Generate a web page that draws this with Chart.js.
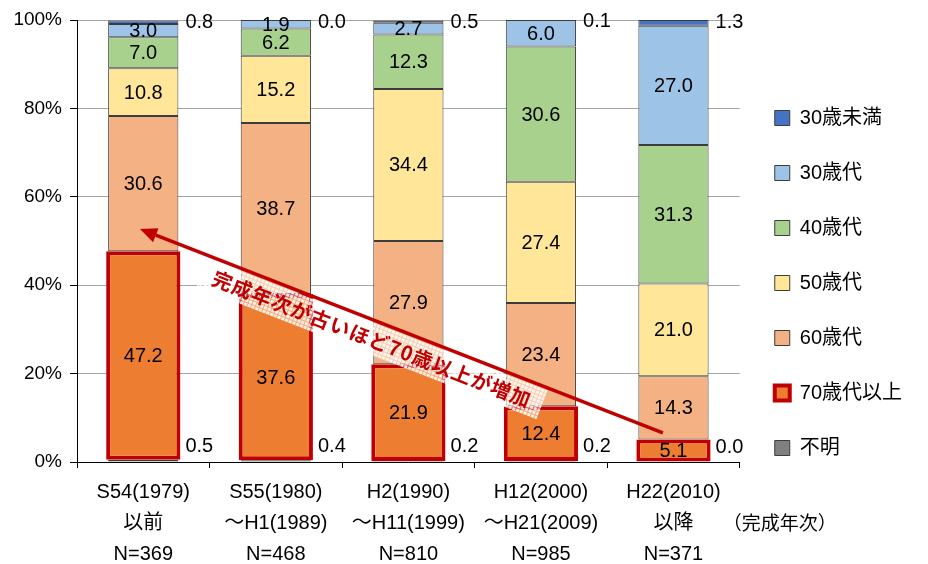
<!DOCTYPE html>
<html>
<head>
<meta charset="utf-8">
<script src="https://cdn.jsdelivr.net/npm/chart.js@4.4.0/dist/chart.umd.min.js"></script>
<style>
  html, body { margin: 0; padding: 0; background: #fff; }
  #wrap { width: 928px; height: 564px; }
</style>
</head>
<body>
<div id="wrap"><canvas id="c" width="928" height="564"></canvas></div>
<script>
// 完成年次別 世帯主年齢の構成比 (%)
const categories = [
  ['S54(1979)', '以前', 'N=369'],
  ['S55(1980)', '～H1(1989)', 'N=468'],
  ['H2(1990)', '～H11(1999)', 'N=810'],
  ['H12(2000)', '～H21(2009)', 'N=985'],
  ['H22(2010)', '以降', 'N=371']
];
const under30   = [0.8, 0.0, 0.5, 0.1, 1.3];
const age30s    = [3.0, 1.9, 2.7, 6.0, 27.0];
const age40s    = [7.0, 6.2, 12.3, 30.6, 31.3];
const age50s    = [10.8, 15.2, 34.4, 27.4, 21.0];
const age60s    = [30.6, 38.7, 27.9, 23.4, 14.3];
const age70plus = [47.2, 37.6, 21.9, 12.4, 5.1];
const unknown   = [0.5, 0.4, 0.2, 0.2, 0.0];
const yTickValues = [0, 20, 40, 60, 80, 100];

// trend arrow, in axis units (category index, percent)
const arrowFrom = { x: 3.92, y: 6.6 };
const arrowTo   = { x: -0.025, y: 52.7 };
const arrowNote = '完成年次が古いほど70歳以上が増加';
const arrowNoteAt = { x: 1.725, y: 27.8 };
const axisNote = '（完成年次）';

const FONT = '"Liberation Sans", "Noto Sans CJK JP", sans-serif';
Chart.defaults.font.family = FONT;
Chart.defaults.color = '#000';

const thin = { borderColor: '#3c3c3c', borderWidth: 1, borderSkipped: false,
               barPercentage: 0.53, categoryPercentage: 1.0 };

const datasets = [
  { label: '不明',       data: unknown,   backgroundColor: '#7f7f7f', ...thin, valueLabel: 'besideBase' },
  { label: '70歳代以上', data: age70plus, backgroundColor: '#ed7d31', borderColor: '#c00000',
    borderWidth: 4, borderSkipped: false, barPercentage: 0.56, categoryPercentage: 1.0, valueLabel: 'center' },
  { label: '60歳代',     data: age60s,    backgroundColor: '#f4b183', ...thin, valueLabel: 'center' },
  { label: '50歳代',     data: age50s,    backgroundColor: '#ffe699', ...thin, valueLabel: 'center' },
  { label: '40歳代',     data: age40s,    backgroundColor: '#a9d18e', ...thin, valueLabel: 'center' },
  { label: '30歳代',     data: age30s,    backgroundColor: '#9dc3e6', ...thin, valueLabel: 'center' },
  { label: '30歳未満',   data: under30,   backgroundColor: '#4472c4', ...thin, valueLabel: 'besideTop' }
];

// value labels on / beside each segment
const valueLabels = {
  id: 'valueLabels',
  afterDatasetsDraw(chart) {
    const ctx = chart.ctx;
    ctx.save();
    ctx.font = '20px ' + FONT;
    ctx.fillStyle = '#000';
    ctx.textBaseline = 'middle';
    chart.data.datasets.forEach((ds, di) => {
      const meta = chart.getDatasetMeta(di);
      if (meta.hidden) return;
      meta.data.forEach((bar, i) => {
        const txt = ds.data[i].toFixed(1);
        const p = bar.getProps(['x', 'y', 'base', 'width'], true);
        if (ds.valueLabel === 'besideTop') {
          ctx.textAlign = 'left';
          ctx.fillText(txt, p.x + p.width / 2 + 7, p.y + 2);
        } else if (ds.valueLabel === 'besideBase') {
          ctx.textAlign = 'left';
          ctx.fillText(txt, p.x + p.width / 2 + 7, p.base - 15);
        } else {
          ctx.textAlign = 'center';
          ctx.fillText(txt, p.x, (p.y + p.base) / 2 + 1);
        }
      });
    });
    ctx.restore();
  }
};

function hatchPattern(ctx) {
  const c = document.createElement('canvas');
  c.width = 4; c.height = 4;
  const g = c.getContext('2d');
  g.fillStyle = 'rgba(255,255,255,0.88)';
  g.fillRect(0, 0, 4, 4);
  g.clearRect(0, 3, 4, 1);
  g.clearRect(3, 0, 1, 4);
  g.fillStyle = 'rgba(255,255,255,0.35)';
  g.fillRect(0, 3, 4, 1);
  g.fillRect(3, 0, 1, 3);
  return ctx.createPattern(c, 'repeat');
}

// red trend arrow with its note
const trendArrow = {
  id: 'trendArrow',
  afterDatasetsDraw(chart) {
    const { ctx, scales: { x, y } } = chart;
    const x0 = x.getPixelForValue(arrowFrom.x), y0 = y.getPixelForValue(arrowFrom.y);
    const x1 = x.getPixelForValue(arrowTo.x),   y1 = y.getPixelForValue(arrowTo.y);
    const ang = Math.atan2(y0 - y1, x0 - x1);      // slope of the note
    const dir = Math.atan2(y1 - y0, x1 - x0);      // pointing at the head
    const tx = x.getPixelForValue(arrowNoteAt.x), ty = y.getPixelForValue(arrowNoteAt.y);

    ctx.save();
    // note background and text
    ctx.translate(tx, ty);
    ctx.rotate(ang);
    ctx.font = 'bold 20px "Noto Sans CJK JP", sans-serif';
    ctx.letterSpacing = '1px';
    const w = ctx.measureText(arrowNote).width;
    ctx.fillStyle = hatchPattern(ctx);
    ctx.fillRect(-w / 2 - 12, -16, w + 24, 31);
    ctx.fillStyle = '#c00000';
    ctx.textAlign = 'center';
    ctx.textBaseline = 'middle';
    ctx.fillText(arrowNote, 0, 0);
    ctx.restore();

    ctx.save();
    const head = 17, half = 7.5;
    const bx = x1 - head * Math.cos(dir), by = y1 - head * Math.sin(dir);
    ctx.strokeStyle = '#c00000';
    ctx.lineWidth = 3.5;
    ctx.beginPath();
    ctx.moveTo(x0, y0);
    ctx.lineTo(bx, by);
    ctx.stroke();
    ctx.fillStyle = '#c00000';
    ctx.beginPath();
    ctx.moveTo(x1, y1);
    ctx.lineTo(bx + half * Math.sin(dir), by - half * Math.cos(dir));
    ctx.lineTo(bx - half * Math.sin(dir), by + half * Math.cos(dir));
    ctx.closePath();
    ctx.fill();
    ctx.restore();
  },
  afterDraw(chart) {
    const { ctx, chartArea, scales: { x } } = chart;
    ctx.save();
    ctx.font = '19px "Noto Sans CJK JP", sans-serif';
    ctx.fillStyle = '#000';
    ctx.textAlign = 'left';
    ctx.textBaseline = 'middle';
    ctx.fillText(axisNote, chartArea.right - 17, x.top + 61);
    ctx.restore();
  }
};

// lift the legend column a little above the canvas centre
const legendLift = {
  id: 'legendLift',
  afterLayout(chart) {
    const lg = chart.legend;
    if (lg) { lg.top -= 9; lg.bottom -= 9; }
  }
};

new Chart(document.getElementById('c'), {
  type: 'bar',
  data: { labels: categories, datasets },
  options: {
    responsive: false,
    animation: false,
    layout: { padding: { left: 0, right: 16, top: 20, bottom: 0 } },
    plugins: {
      legend: {
        position: 'right',
        reverse: true,
        labels: {
          boxWidth: 15, boxHeight: 15,
          padding: 35,
          color: '#000',
          font: { size: 20, family: FONT }
        }
      },
      tooltip: { enabled: false }
    },
    scales: {
      x: {
        stacked: true,
        grid: { display: true, drawOnChartArea: false, drawTicks: true, tickLength: 6, color: '#000', offset: true },
        border: { display: true, color: '#000', width: 1 },
        ticks: { color: '#000', padding: 9, maxRotation: 0, autoSkip: false,
                 font: { size: 20, lineHeight: 1.55 } },
        afterFit(s) { s.height = 102; }
      },
      y: {
        stacked: true,
        min: 0, max: 100,
        afterBuildTicks(s) { s.ticks = yTickValues.map(v => ({ value: v })); },
        grid: { color: '#a6a6a6', borderDash: [3, 2], tickLength: 7, tickColor: '#000', tickBorderDash: [] },
        border: { display: true, color: '#000', width: 1 },
        ticks: { color: '#000', padding: 8, font: { size: 19 }, callback: v => v + '%' },
        afterFit(s) { s.width = 77; }
      }
    }
  },
  plugins: [valueLabels, trendArrow, legendLift]
});
</script>
</body>
</html>
